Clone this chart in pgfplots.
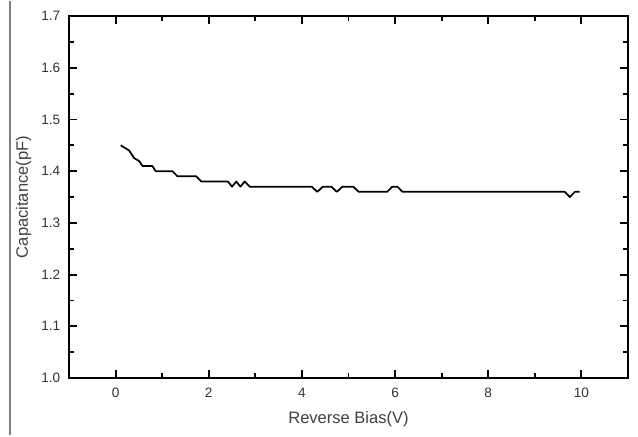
\documentclass[border=0pt]{standalone}
\usepackage{fontspec}
\setmainfont{Liberation Sans}
\usepackage{pgfplots}
\pgfplotsset{compat=1.18}

% 1 px of the reference = 0.75pt
\begin{document}
\begin{tikzpicture}[x=0.75pt,y=0.75pt]
\begin{axis}[
    name=cv,
    at={(0,0)}, anchor=south west,
    scale only axis,
    width=419.25pt, height=271.5pt,
    xmin=-1, xmax=11, ymin=1.0, ymax=1.7,
    xtick={0,2,...,10}, ytick={1.0,1.1,...,1.7},
    minor x tick num=1, minor y tick num=1,
    tick align=inside,
    major tick length=6pt, minor tick length=3.5pt,
    every tick/.style={black, line width=1.4pt},
    axis line style={line width=1.6pt},
    /pgf/number format/assume math mode=true,
    ticklabel style={font=\fontsize{10.2}{12}\selectfont, text=black!80},
    xticklabel style={yshift=-4pt},
    yticklabel style={xshift=-3pt, /pgf/number format/.cd, fixed, fixed zerofill, precision=1},
    label style={font=\fontsize{12.4}{14}\selectfont, text=black!75},
    xlabel={Reverse Bias(V)},
    ylabel={Capacitance(pF)},
    xlabel style={at={(axis description cs:0.5,-0.113)}, anchor=center},
    ylabel style={at={(axis description cs:-0.081,0.5)}, anchor=center},
]
\addplot[black, line width=1.3pt, line join=round] coordinates {
    (0.11,1.45) (0.29,1.44) (0.40,1.425) (0.50,1.42) (0.58,1.41) (0.79,1.41)
    (0.86,1.40) (1.22,1.40) (1.33,1.39) (1.73,1.39) (1.84,1.38) (2.41,1.38)
    (2.50,1.37) (2.59,1.38) (2.68,1.37) (2.77,1.38) (2.88,1.37) (4.21,1.37)
    (4.33,1.36) (4.45,1.37) (4.63,1.37) (4.75,1.36) (4.87,1.37) (5.10,1.37)
    (5.22,1.36) (5.83,1.36) (5.94,1.37) (6.05,1.37) (6.16,1.36) (9.64,1.36)
    (9.75,1.35) (9.86,1.36) (9.96,1.36)
};
\end{axis}
% page edge line at the far left of the reference
\draw[gray, line width=1.5pt] (-59,-57) -- (-59,377);
\useasboundingbox (-69,-57) rectangle (569,377);
\end{tikzpicture}
\end{document}
